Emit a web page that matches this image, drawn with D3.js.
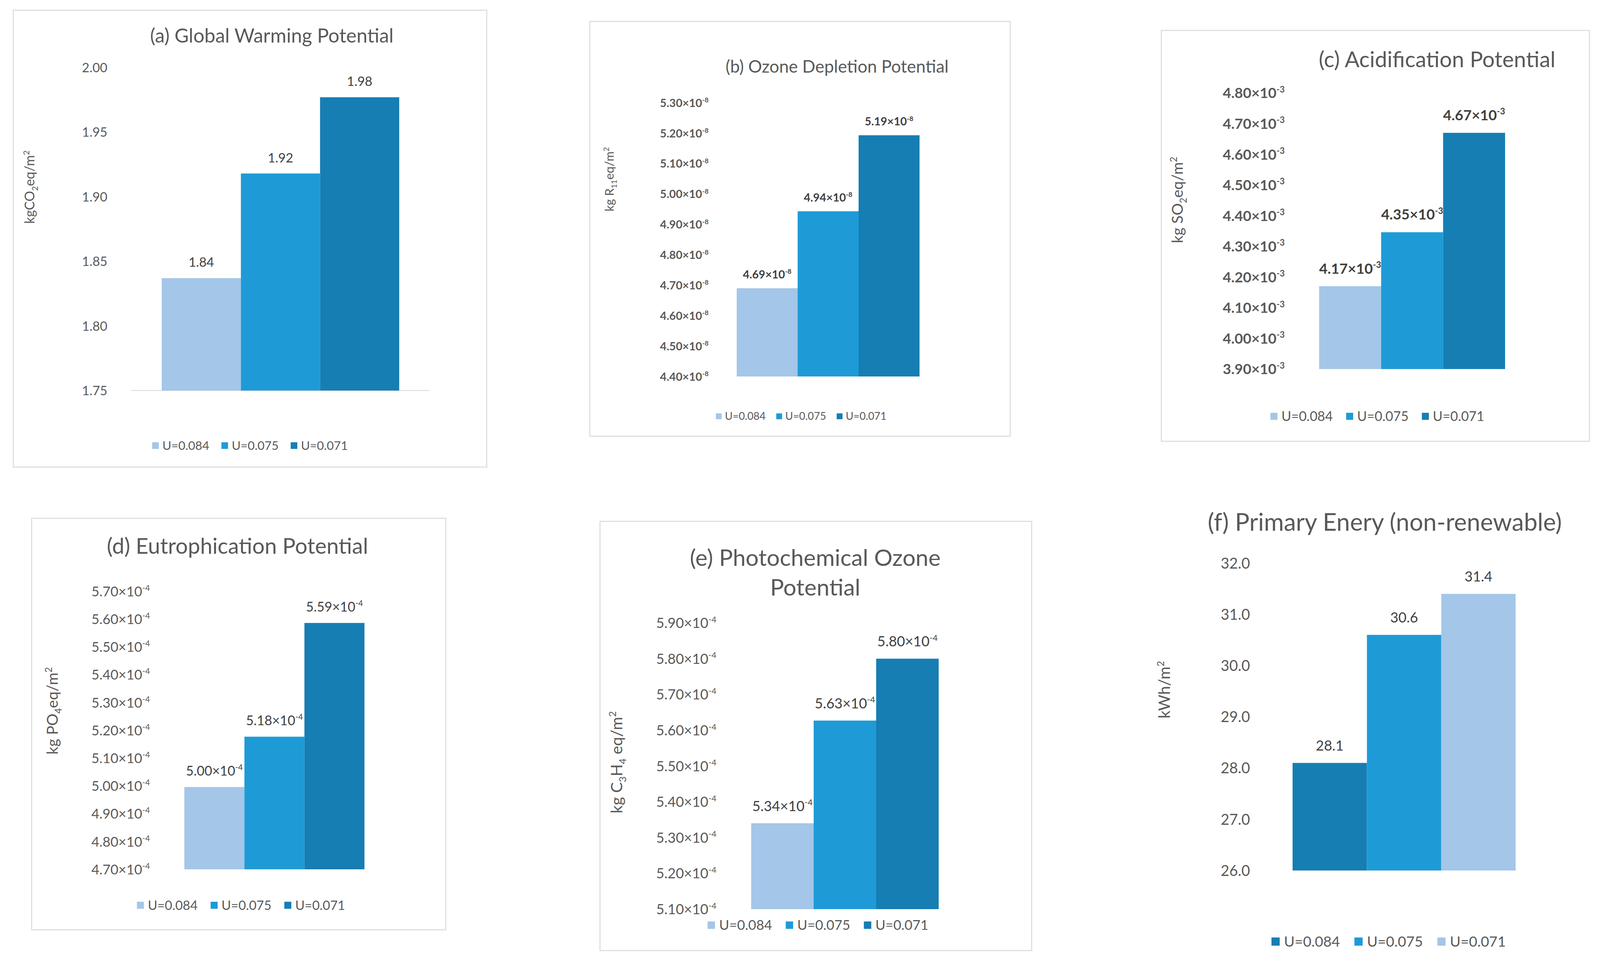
<!DOCTYPE html>
<html>
<head>
<meta charset="utf-8">
<script src="https://cdn.jsdelivr.net/npm/d3@7"></script>
<style>
  body { margin: 0; background: #fff; }
  svg { display: block; }
</style>
</head>
<body>
<div id="chart"></div>
<script>
// data
const series = ["U=0.084", "U=0.075", "U=0.071"];

const gwpValues = [1.837, 1.918, 1.977];
const gwpTicks = [1.75, 1.80, 1.85, 1.90, 1.95, 2.00];

const odpValues = [4.69, 4.943, 5.193];          // x10^-8
const odpTicks = [4.40, 4.50, 4.60, 4.70, 4.80, 4.90, 5.00, 5.10, 5.20, 5.30];

const apValues = [4.17, 4.346, 4.67];            // x10^-3
const apTicks = [3.90, 4.00, 4.10, 4.20, 4.30, 4.40, 4.50, 4.60, 4.70, 4.80];

const epValues = [4.996, 5.177, 5.586];          // x10^-4
const epTicks = [4.70, 4.80, 4.90, 5.00, 5.10, 5.20, 5.30, 5.40, 5.50, 5.60, 5.70];

const pocpValues = [5.34, 5.627, 5.80];          // x10^-4
const pocpTicks = [5.10, 5.20, 5.30, 5.40, 5.50, 5.60, 5.70, 5.80, 5.90];

const penrValues = [28.1, 30.6, 31.4];
const penrTicks = [26, 27, 28, 29, 30, 31, 32];

const LIGHT = "#a4c6e8", MID = "#1e9bd7", DARK = "#167eb3";
const FONT = "Lato, 'Open Sans', sans-serif";
const GREY = "#595959";

const W = 4103, H = 2471;
const svg = d3.select("#chart").append("svg")
    .attr("width", W)
    .attr("height", H)
    .style("font-family", FONT);
svg.append("rect").attr("width", W).attr("height", H).attr("fill", "#fff");

const panels = [
  {values: gwpValues, ticks: gwpTicks, fmt: ".2f", exp: null,
   title: ["(a) Global Warming Potential"], tx: 696, ty: 91, tfs: 50, tgap: 0,
   box: [34, 26, 1246, 1196], plot: {left: 414, right: 1022, top: 173, bottom: 1000},
   tickX: 275, tickFs: 33, valFs: 33, weight: "normal",
   yTitle: [["kgCO"], ["2", "sub"], ["eq/m"], ["2", "sup"]], yx: 88, yy: 479, yfs: 34,
   leg: {cx: 640, cy: 1141, fs: 31, sq: 17}, colors: [LIGHT, MID, DARK], baseline: [336, 1100]},
  {values: odpValues, ticks: odpTicks, fmt: ".2f", exp: "-8",
   title: ["(b) Ozone Depletion Potential"], tx: 2143, ty: 171, tfs: 44, tgap: 0,
   box: [1510, 55, 2586, 1117], plot: {left: 1886, right: 2354, top: 263, bottom: 964},
   tickX: 1814, tickFs: 29, valFs: 29, weight: "bold",
   yTitle: [["kg R"], ["11", "sub"], ["eq/m"], ["2", "sup"]], yx: 1571, yy: 459, yfs: 31,
   leg: {cx: 2051, cy: 1066, fs: 27, sq: 15}, colors: [LIGHT, MID, DARK]},
  {values: apValues, ticks: apTicks, fmt: ".2f", exp: "-3",
   title: ["(c) Acidification Potential"], tx: 3679, ty: 152, tfs: 56, tgap: 0,
   box: [2973, 78, 4069, 1130], plot: {left: 3377, right: 3853, top: 238, bottom: 945},
   tickX: 3289, tickFs: 37, valFs: 37, weight: "bold",
   yTitle: [["kg SO"], ["2", "sub"], ["eq/m"], ["2", "sup"]], yx: 3028, yy: 512, yfs: 39,
   leg: {cx: 3526, cy: 1066, fs: 34, sq: 18}, colors: [LIGHT, MID, DARK]},
  {values: epValues, ticks: epTicks, fmt: ".2f", exp: "-4",
   title: ["(d) Eutrophication Potential"], tx: 608, ty: 1398, tfs: 56, tgap: 0,
   box: [81, 1327, 1141, 2381], plot: {left: 472, right: 933, top: 1514, bottom: 2226},
   tickX: 384, tickFs: 35, valFs: 34, weight: "normal",
   yTitle: [["kg PO"], ["4", "sub"], ["eq/m"], ["2", "sup"]], yx: 148, yy: 1820, yfs: 39,
   leg: {cx: 617, cy: 2318, fs: 33, sq: 18}, colors: [LIGHT, MID, DARK]},
  {values: pocpValues, ticks: pocpTicks, fmt: ".2f", exp: "-4",
   title: ["(e) Photochemical Ozone", "Potential"], tx: 2087, ty: 1428, tfs: 59, tgap: 76,
   box: [1536, 1335, 2641, 2434], plot: {left: 1923, right: 2403, top: 1595, bottom: 2328},
   tickX: 1834, tickFs: 36, valFs: 36, weight: "normal",
   yTitle: [["kg C"], ["3", "sub"], ["H"], ["4", "sub"], [" eq/m"], ["2", "sup"]], yx: 1593, yy: 1952, yfs: 41,
   leg: {cx: 2094, cy: 2369, fs: 35, sq: 19}, colors: [LIGHT, MID, DARK]},
  {values: penrValues, ticks: penrTicks, fmt: ".1f", exp: null,
   title: ["(f) Primary Enery (non-renewable)"], tx: 3545, ty: 1337, tfs: 62, tgap: 0,
   box: null, plot: {left: 3309, right: 3880, top: 1442, bottom: 2229},
   tickX: 3200, tickFs: 38, valFs: 36, weight: "normal",
   yTitle: [["kWh/m"], ["2", "sup"]], yx: 2995, yy: 1766, yfs: 40,
   leg: {cx: 3555, cy: 2411, fs: 37, sq: 21}, colors: [DARK, MID, LIGHT]}
];

// number with optional "x10^exp" superscript
function writeNumber(text, v, p, fs) {
  text.text(null);
  let s = d3.format(p.fmt)(v);
  text.append("tspan").text(p.exp ? s + "×10" : s);
  if (p.exp) {
    text.append("tspan")
        .attr("font-size", fs * 0.6)
        .attr("dy", -fs * 0.4)
        .text(p.exp);
  }
}

function drawPanel(p) {
  const g = svg.append("g");

  if (p.box) {
    g.append("rect")
        .attr("x", p.box[0]).attr("y", p.box[1])
        .attr("width", p.box[2] - p.box[0]).attr("height", p.box[3] - p.box[1])
        .attr("fill", "#fff").attr("stroke", "#d9d9d9").attr("stroke-width", 2.5);
  }

  let x = d3.scaleBand().domain(series).range([p.plot.left, p.plot.right]).padding(0);
  let y = d3.scaleLinear()
      .domain([p.ticks[0], p.ticks[p.ticks.length - 1]])
      .range([p.plot.bottom, p.plot.top]);

  const data = series.map((s, i) => ({name: s, value: p.values[i], color: p.colors[i]}));

  // title
  g.selectAll(".title").data(p.title).enter().append("text")
      .attr("class", "title")
      .attr("x", p.tx)
      .attr("y", (d, i) => p.ty + i * p.tgap)
      .attr("dy", "0.35em")
      .attr("text-anchor", "middle")
      .attr("font-size", p.tfs)
      .attr("fill", GREY)
      .text(d => d);

  // y axis
  let yAxis = d3.axisLeft(y).tickValues(p.ticks).tickSize(0).tickPadding(0);
  let ax = g.append("g")
      .attr("transform", "translate(" + p.tickX + ",0)")
      .call(yAxis);
  ax.select(".domain").remove();
  ax.attr("font-family", FONT).attr("font-size", p.tickFs);
  ax.selectAll(".tick text")
      .attr("fill", GREY)
      .attr("font-weight", p.weight)
      .attr("dy", "0.35em")
      .each(function(d) { writeNumber(d3.select(this), d, p, p.tickFs); });

  if (p.baseline) {
    g.append("line")
        .attr("x1", p.baseline[0]).attr("x2", p.baseline[1])
        .attr("y1", y(p.ticks[0])).attr("y2", y(p.ticks[0]))
        .attr("stroke", "#d9d9d9").attr("stroke-width", 2);
  }

  // bars
  g.selectAll(".bar").data(data).enter().append("rect")
      .attr("class", "bar")
      .attr("x", d => x(d.name))
      .attr("y", d => y(d.value))
      .attr("width", x.bandwidth())
      .attr("height", d => y(p.ticks[0]) - y(d.value))
      .attr("fill", d => d.color);

  // value labels
  g.selectAll(".val").data(data).enter().append("text")
      .attr("class", "val")
      .attr("x", d => x(d.name) + x.bandwidth() / 2)
      .attr("y", d => y(d.value) - p.valFs * 1.22)
      .attr("dy", "0.35em")
      .attr("text-anchor", "middle")
      .attr("font-size", p.valFs)
      .attr("font-weight", p.weight)
      .attr("fill", "#404040")
      .each(function(d) { writeNumber(d3.select(this), d.value, p, p.valFs); });

  // y axis title
  let yt = g.append("text")
      .attr("transform", "translate(" + p.yx + "," + p.yy + ") rotate(-90)")
      .attr("text-anchor", "middle")
      .attr("dy", "0.35em")
      .attr("font-size", p.yfs)
      .attr("fill", GREY);
  let shift = 0;
  p.yTitle.forEach(part => {
    let ts = yt.append("tspan").text(part[0]);
    let target = 0;
    if (part[1] === "sub") target = p.yfs * 0.25;
    if (part[1] === "sup") target = -p.yfs * 0.38;
    if (part[1]) ts.attr("font-size", p.yfs * 0.62);
    ts.attr("dy", target - shift);
    shift = target;
  });

  // legend
  let leg = g.append("g");
  let items = leg.selectAll(".item").data(data).enter().append("g").attr("class", "item");
  items.append("rect")
      .attr("width", p.leg.sq).attr("height", p.leg.sq)
      .attr("y", -p.leg.sq / 2)
      .attr("fill", d => d.color);
  items.append("text")
      .attr("x", p.leg.sq + p.leg.fs * 0.3)
      .attr("dy", "0.35em")
      .attr("font-size", p.leg.fs)
      .attr("fill", GREY)
      .text(d => d.name);
  let widths = [];
  items.each(function() { widths.push(this.getBBox().width); });
  let gap = p.leg.fs * 1.0;
  let total = d3.sum(widths) + gap * (widths.length - 1);
  let cur = p.leg.cx - total / 2;
  items.attr("transform", (d, i) => {
    let t = "translate(" + cur + "," + p.leg.cy + ")";
    cur += widths[i] + gap;
    return t;
  });
}

panels.forEach(drawPanel);
</script>
</body>
</html>
